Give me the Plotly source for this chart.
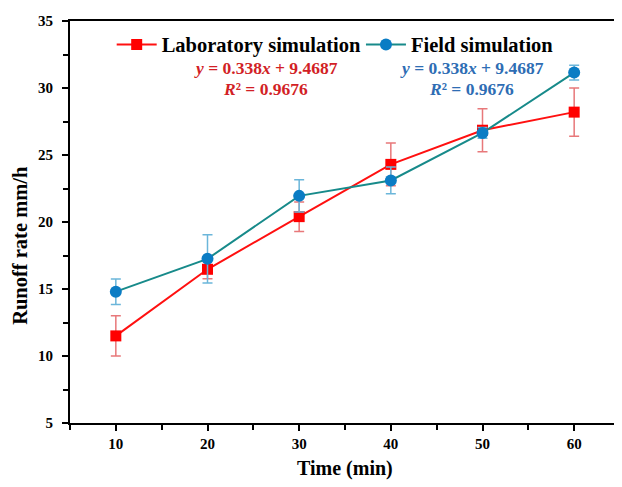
import plotly.graph_objects as go

time_min = [10, 20, 30, 40, 50, 60]
lab_rate = [11.5, 16.47, 20.4, 24.3, 26.85, 28.2]
lab_err = [1.5, 0.7, 1.1, 1.6, 1.6, 1.8]
field_rate = [14.8, 17.25, 21.95, 23.1, 26.65, 31.15]
field_err = [0.95, 1.8, 1.2, 1.0, 0.4, 0.55]

FONT = "Liberation Serif"

fig = go.Figure()
fig.add_trace(go.Scatter(
    x=time_min, y=lab_rate, name="<b>Laboratory simulation</b>",
    mode="lines+markers", legend="legend",
    line=dict(color="#FF1010", width=2),
    marker=dict(symbol="square", size=11, color="#FF0000"),
    error_y=dict(type="data", array=lab_err, color="#E8787A", thickness=1.5, width=5),
))
fig.add_trace(go.Scatter(
    x=time_min, y=field_rate, name="<b>Field simulation</b>",
    mode="lines+markers", legend="legend2",
    line=dict(color="#178A8A", width=2),
    marker=dict(symbol="circle", size=12, color="#0A7CC4"),
    error_y=dict(type="data", array=field_err, color="#6BB6DA", thickness=1.5, width=5),
))

eq_text = "<b><i>y</i> = 0.338<i>x</i> + 9.4687</b>"
r2_text = "<b><i>R</i>² = 0.9676</b>"
for cx, col in [(0.356, "#D21F26"), (0.730, "#2E6DB4")]:
    fig.add_annotation(x=cx, y=0.882, xref="paper", yref="paper", text=eq_text,
                       showarrow=False, font=dict(family=FONT, size=17.5, color=col),
                       xanchor="center", yanchor="middle")
    fig.add_annotation(x=cx, y=0.832, xref="paper", yref="paper", text=r2_text,
                       showarrow=False, font=dict(family=FONT, size=17.5, color=col),
                       xanchor="center", yanchor="middle")

# axis titles
fig.add_annotation(x=0.5, y=-0.112, xref="paper", yref="paper",
                   text="<b>Time (min)</b>", showarrow=False,
                   font=dict(family=FONT, size=20, color="black"),
                   xanchor="center", yanchor="middle")
fig.add_annotation(x=-0.091, y=0.443, xref="paper", yref="paper",
                   text="<b>Runoff rate mm/h</b>", showarrow=False, textangle=-90,
                   font=dict(family=FONT, size=20.5, color="black"),
                   xanchor="center", yanchor="middle")

axis_common = dict(showline=True, linecolor="black", linewidth=2, mirror=True,
                   ticks="outside", ticklen=6, tickwidth=1.5, tickcolor="black",
                   showgrid=False, zeroline=False, automargin=False,
                   tickfont=dict(family=FONT, size=15, color="black"))

fig.update_xaxes(range=[5, 65], tickvals=time_min,
                 ticktext=[f"<b>{t}</b>" for t in time_min],
                 minor=dict(tickvals=[5, 15, 25, 35, 45, 55, 65], ticks="outside", ticklen=5, tickcolor="black", tickwidth=1.5),
                 **axis_common)
yt = [5, 10, 15, 20, 25, 30, 35]
fig.update_yaxes(range=[5, 35], tickvals=yt, ticktext=[f"<b>{v}</b>" for v in yt],
                 minor=dict(tickvals=[7.5, 12.5, 17.5, 22.5, 27.5, 32.5], ticks="outside", ticklen=5, tickcolor="black", tickwidth=1.5),
                 ticklabelstandoff=6,
                 **axis_common)

legend_common = dict(orientation="h", y=0.991, xanchor="left", yanchor="top",
                     font=dict(family=FONT, size=20.5, color="black"),
                     bgcolor="rgba(0,0,0,0)", itemwidth=40)

# the page body has an 8px margin, so the figure is offset by (8, 8)
fig.update_layout(
    width=622, height=487,
    margin=dict(l=62, r=10, t=13, b=72),
    paper_bgcolor="white", plot_bgcolor="white",
    font=dict(family=FONT, color="black"),
    showlegend=True,
    legend=dict(x=0.0758, **legend_common),
    legend2=dict(x=0.529, **legend_common),
)

fig.write_html("out.html")
